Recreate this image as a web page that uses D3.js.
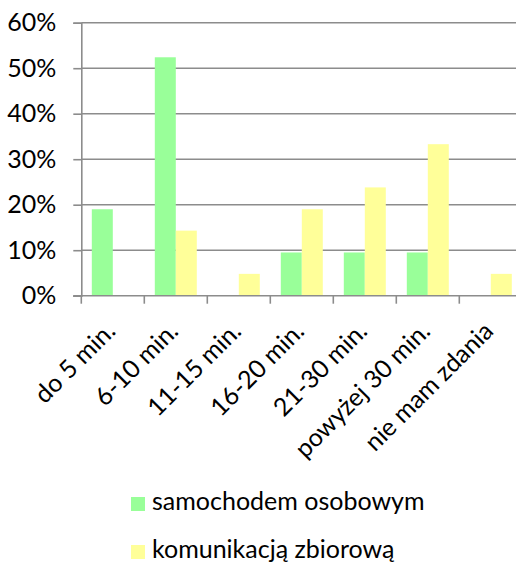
<!DOCTYPE html>
<html>
<head>
<meta charset="utf-8">
<script src="https://cdn.jsdelivr.net/npm/d3@7"></script>
<style>
  html, body { margin: 0; padding: 0; background: #fff; }
  svg text { font-family: Lato, "Open Sans", sans-serif; fill: #000; }
</style>
</head>
<body>
<svg id="chart" width="516" height="563"></svg>
<script>
// Commute time categories
const categories = ["do 5 min.", "6-10 min.", "11-15 min.", "16-20 min.", "21-30 min.", "powyżej 30 min.", "nie mam zdania"];
// Share of answers (%) per mode of transport
const carValues = [19.0, 52.4, 0, 9.5, 9.5, 9.5, 0];
const transitValues = [0, 14.3, 4.8, 19.0, 23.8, 33.3, 4.8];
const seriesNames = ["samochodem osobowym", "komunikacją zbiorową"];
const seriesColors = ["#99FF99", "#FFFF99"];
const yTicks = [0, 10, 20, 30, 40, 50, 60];

const svg = d3.select("#chart");
const plotLeft = 81.3, plotRight = 522.3, plotTop = 22.7, plotBottom = 295.7;
const gridColor = "#8c8c8c";
const fontSize = 25;

const x = d3.scaleBand().domain(categories).range([plotLeft, plotRight]).paddingInner(0).paddingOuter(0);
const xs = d3.scaleBand().domain([0, 1]).range([x.bandwidth() / 6, x.bandwidth() * 5 / 6]);
const y = d3.scaleLinear().domain([0, 60]).range([plotBottom, plotTop]);

// horizontal gridlines
svg.append("g").selectAll("line").data(yTicks.filter(d => d > 0)).join("line")
  .attr("x1", plotLeft).attr("x2", 516)
  .attr("y1", d => y(d)).attr("y2", d => y(d))
  .attr("stroke", gridColor).attr("stroke-width", 1.6);

// bars
const series = [carValues, transitValues];
series.forEach((vals, si) => {
  svg.append("g").selectAll("rect").data(vals).join("rect")
    .attr("x", (d, i) => x(categories[i]) + xs(si))
    .attr("width", xs.bandwidth())
    .attr("y", d => y(d))
    .attr("height", d => y(0) - y(d))
    .attr("fill", seriesColors[si]);
});

// y axis
const yAxis = d3.axisLeft(y).tickValues(yTicks).tickFormat(d => d + "%").tickSize(8).tickPadding(17);
const gy = svg.append("g").attr("transform", `translate(${plotLeft},0)`).call(yAxis);
gy.select(".domain").attr("stroke", gridColor).attr("stroke-width", 1.6);
gy.selectAll(".tick line").attr("stroke", gridColor).attr("stroke-width", 1.6);
gy.selectAll(".tick text").attr("font-size", fontSize).attr("font-family", "Lato, sans-serif").attr("fill", "#000");

// x axis baseline and category ticks
svg.append("line").attr("x1", plotLeft - 8).attr("x2", 516).attr("y1", plotBottom).attr("y2", plotBottom)
  .attr("stroke", gridColor).attr("stroke-width", 1.6);
svg.append("g").selectAll("line").data(categories).join("line")
  .attr("x1", d => x(d)).attr("x2", d => x(d))
  .attr("y1", plotBottom).attr("y2", plotBottom + 8)
  .attr("stroke", gridColor).attr("stroke-width", 1.6);

// rotated category labels
svg.append("g").selectAll("text").data(categories).join("text")
  .attr("transform", d => `translate(${x(d) + x.bandwidth() / 2 + 4},${plotBottom + 37}) rotate(-45)`)
  .attr("text-anchor", "end")
  .attr("font-size", fontSize)
  .text(d => d);

// legend
const legend = svg.append("g");
seriesNames.forEach((name, i) => {
  const ly = 497 + i * 48;
  legend.append("rect").attr("x", 131).attr("y", ly).attr("width", 14).attr("height", 14).attr("fill", seriesColors[i]);
  legend.append("text").attr("x", 152).attr("y", ly + 13).attr("font-size", fontSize).text(name);
});
</script>
</body>
</html>
